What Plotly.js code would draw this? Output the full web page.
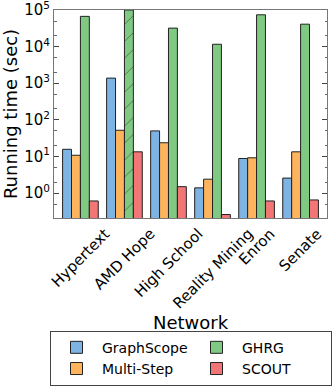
<!DOCTYPE html>
<html>
<head>
<meta charset="utf-8">
<script src="https://cdn.plot.ly/plotly-3.0.1.min.js"></script>
<style>
  html, body { margin: 0; padding: 0; background: #fff; }
  #chart { width: 332px; height: 391px; }
</style>
</head>
<body>
<div id="chart"></div>
<script>
const networks = ['Hypertext', 'AMD Hope', 'High School', 'Reality Mining', 'Enron', 'Senate'];

const graphScope = [15.7, 1380, 50, 1.39, 8.8, 2.57];
const multiStep = [10.8, 52, 23.7, 2.4, 9.2, 13.4];
const ghrg = [67000, 100000, 32000, 11600, 74000, 41000];   // AMD Hope did not finish (hatched)
const scout = [0.61, 13.4, 1.5, 0.26, 0.61, 0.65];
const ghrgHatch = ['', '/', '', '', '', ''];

const yTickVals = [1, 10, 100, 1000, 10000, 100000];
const yTickText = ['10<sup>0</sup>', '10<sup>1</sup>', '10<sup>2</sup>', '10<sup>3</sup>', '10<sup>4</sup>', '10<sup>5</sup>'];

const edge = { color: '#222', width: 1 };

const traces = [
  { name: 'GraphScope', y: graphScope, color: '#7db4e3', rank: 1 },
  { name: 'Multi-Step', y: multiStep, color: '#fdb45c', rank: 3 },
  { name: 'GHRG', y: ghrg, color: '#80c982', rank: 2 },
  { name: 'SCOUT', y: scout, color: '#f27676', rank: 4 }
].map(s => {
  const t = {
    type: 'bar',
    name: s.name,
    x: networks,
    y: s.y,
    legendrank: s.rank,
    marker: { color: s.color, line: edge }
  };
  if (s.name === 'GHRG') {
    t.marker.pattern = { shape: ghrgHatch, fillmode: 'overlay', fgcolor: '#222', size: 12, solidity: 0.08 };
  }
  return t;
});

// category labels centred under each group, like matplotlib's rotated ha='center'
const xLabels = networks.map(n => ({
  x: n, xref: 'x',
  y: 0, yref: 'paper',
  yanchor: 'top', xanchor: 'center',
  yshift: -4,
  text: n,
  textangle: -45,
  showarrow: false,
  font: { size: 15 }
}));

const layout = {
  width: 332,
  height: 391,
  margin: { l: 54, r: 5, t: 10, b: 168 },
  paper_bgcolor: '#fff',
  plot_bgcolor: '#fff',
  font: { family: 'DejaVu Sans', color: '#000', size: 15 },
  barmode: 'group',
  bargap: 0.19,
  bargroupgap: 0,
  showlegend: true,
  annotations: xLabels,
  xaxis: {
    type: 'category',
    range: [-0.6, 5.6],
    showticklabels: false,
    ticks: '',
    showline: true,
    linecolor: '#777',
    linewidth: 1,
    mirror: true,
    title: { text: 'Network', font: { size: 18 }, standoff: 98 }
  },
  yaxis: {
    type: 'log',
    range: [-0.68, 5],
    tickvals: yTickVals,
    ticktext: yTickText,
    ticklabeloverflow: 'allow',
    ticks: 'inside',
    ticklen: 5,
    tickcolor: '#444',
    minor: { ticks: 'inside', ticklen: 2.5, tickcolor: '#666', showgrid: false },
    showgrid: false,
    zeroline: false,
    showline: true,
    linecolor: '#777',
    linewidth: 1,
    mirror: 'allticks',
    tickfont: { size: 15 },
    title: { text: 'Running time (sec)', font: { size: 18 }, standoff: 6 }
  },
  legend: {
    orientation: 'h',
    x: -0.001,
    y: -0.542,
    xanchor: 'left',
    yanchor: 'top',
    bordercolor: '#444',
    borderwidth: 1,
    entrywidth: 84,
    entrywidthmode: 'pixels',
    itemwidth: 41,
    font: { size: 14 },
    traceorder: 'normal'
  }
};

Plotly.newPlot('chart', traces, layout, { displayModeBar: false, staticPlot: true });
</script>
</body>
</html>
